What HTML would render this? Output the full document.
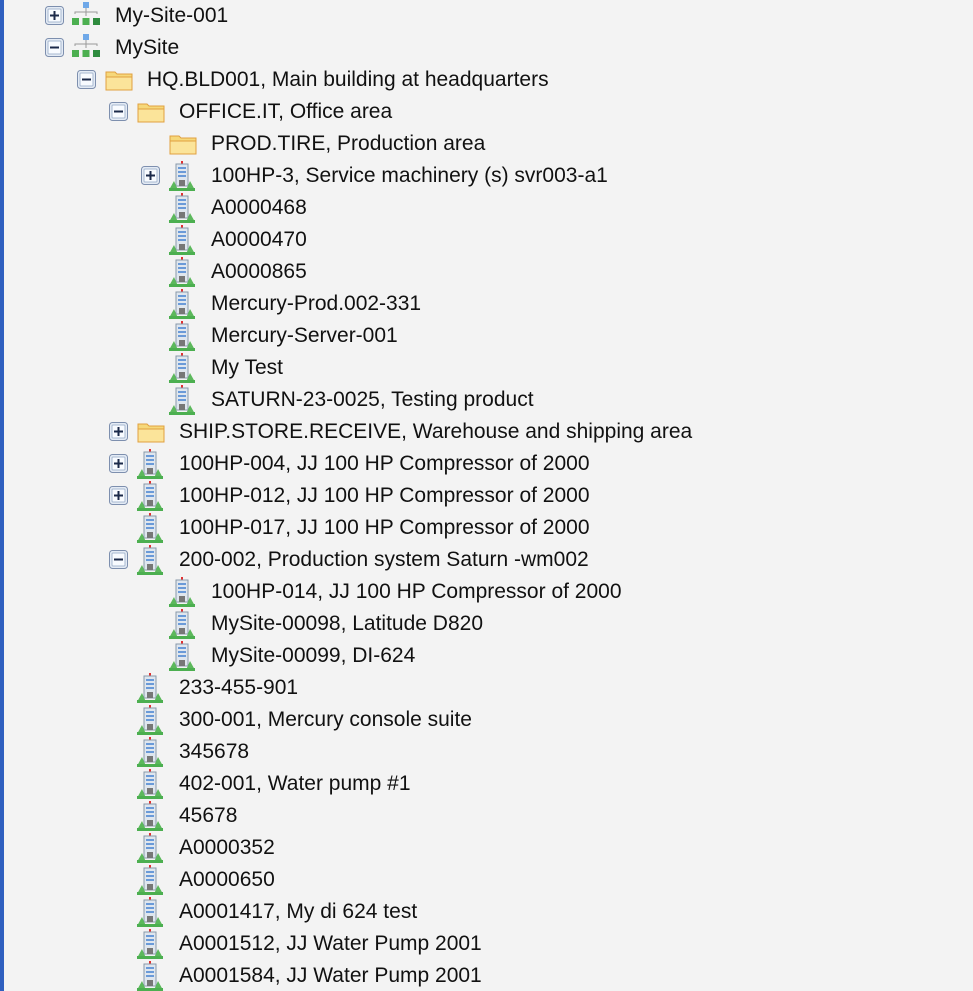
<!DOCTYPE html>
<html><head><meta charset="utf-8"><style>
html,body{margin:0;padding:0;width:973px;height:991px;overflow:hidden}
body{background:#f3f3f3;position:relative;font-family:"Liberation Sans",Arial,sans-serif}
#wrap{position:absolute;left:0;top:0;width:973px;height:991px;overflow:hidden}
.bar{position:absolute;left:0;top:0;width:4px;height:991px;background:#2f5fbf}
.r{position:absolute;height:32px;width:960px}
.t{position:absolute;top:4px;font-size:21px;color:#111;white-space:nowrap;line-height:24px}
.e,.i{position:absolute}
</style></head><body>
<div id="wrap">
<div class="bar"></div>
<svg width="0" height="0" style="position:absolute">
<defs>
<symbol id="plus" viewBox="0 0 19 19"><rect x="0.5" y="0.5" width="18" height="18" rx="3" fill="#e4ebf5" stroke="#7d8fae"/><rect x="3" y="3" width="13" height="13" rx="1" fill="#f8fbff" stroke="#a8b8d0"/><rect x="5" y="8.5" width="9" height="2" fill="#1b2a4a"/><rect x="8.5" y="5" width="2" height="9" fill="#1b2a4a"/></symbol>
<symbol id="minus" viewBox="0 0 19 19"><rect x="0.5" y="0.5" width="18" height="18" rx="3" fill="#e4ebf5" stroke="#7d8fae"/><rect x="3" y="3" width="13" height="13" rx="1" fill="#f8fbff" stroke="#a8b8d0"/><rect x="5" y="8.5" width="9" height="2" fill="#1b2a4a"/></symbol>
<symbol id="site" viewBox="0 0 32 26"><rect x="13" y="0" width="6" height="6" fill="#6fa8e8"/><path d="M16 6v4M5 12v-2h22v2M16 10v4" stroke="#999" fill="none"/><rect x="2" y="16" width="7" height="7" fill="#4caf50"/><rect x="12.5" y="16" width="7" height="7" fill="#4caf50"/><rect x="23" y="16" width="7" height="7" fill="#2e8b3e"/></symbol>
<symbol id="folder" viewBox="0 0 28 22"><path d="M1 3h9l2 2h15v16H1z" fill="#f6d87a" stroke="#e0a040"/><path d="M1 8h26v13H1z" fill="#fbe49a" stroke="#e0a040"/></symbol>
<symbol id="bldg" viewBox="0 0 26 30"><rect x="12" y="0" width="2" height="3" fill="#e03030"/><rect x="7" y="3" width="12" height="22" fill="#dfe6ee" stroke="#8899aa"/><rect x="9" y="6" width="8" height="2" fill="#6a9ad8"/><rect x="9" y="10" width="8" height="2" fill="#6a9ad8"/><rect x="9" y="14" width="8" height="2" fill="#6a9ad8"/><rect x="10" y="19" width="6" height="6" fill="#777"/><path d="M0 29l5-9 4 9zM17 29l4-9 5 9z" fill="#5cb85c"/><rect x="0" y="27" width="26" height="3" fill="#4caf50"/></symbol>
</defs></svg>
<div id="tree"></div>
</div>
<script>
var rows=[
[0,'+','site','My-Site-001'],[0,'-','site','MySite'],[1,'-','folder','HQ.BLD001, Main building at headquarters'],
[2,'-','folder','OFFICE.IT, Office area'],[3,'','folder','PROD.TIRE, Production area'],
[3,'+','bldg','100HP-3, Service machinery (s) svr003-a1'],[3,'','bldg','A0000468'],[3,'','bldg','A0000470'],
[3,'','bldg','A0000865'],[3,'','bldg','Mercury-Prod.002-331'],[3,'','bldg','Mercury-Server-001'],[3,'','bldg','My Test'],
[3,'','bldg','SATURN-23-0025, Testing product'],[2,'+','folder','SHIP.STORE.RECEIVE, Warehouse and shipping area'],
[2,'+','bldg','100HP-004, JJ 100 HP Compressor of 2000'],[2,'+','bldg','100HP-012, JJ 100 HP Compressor of 2000'],
[2,'','bldg','100HP-017, JJ 100 HP Compressor of 2000'],[2,'-','bldg','200-002, Production system Saturn -wm002'],
[3,'','bldg','100HP-014, JJ 100 HP Compressor of 2000'],[3,'','bldg','MySite-00098, Latitude D820'],[3,'','bldg','MySite-00099, DI-624'],
[2,'','bldg','233-455-901'],[2,'','bldg','300-001, Mercury console suite'],[2,'','bldg','345678'],[2,'','bldg','402-001, Water pump #1'],
[2,'','bldg','45678'],[2,'','bldg','A0000352'],[2,'','bldg','A0000650'],[2,'','bldg','A0001417, My di 624 test'],
[2,'','bldg','A0001512, JJ Water Pump 2001'],[2,'','bldg','A0001584, JJ Water Pump 2001'],[2,'','bldg','']];
var h='';
rows.forEach(function(r,i){
 var tx=115+32*r[0],y=i*32;
 h+='<div class="r" style="top:'+y+'px;left:0">';
 if(r[1])h+='<svg class="e" style="left:'+(tx-70)+'px;top:6px" width="19" height="19"><use href="#'+(r[1]=='+'?'plus':'minus')+'"/></svg>';
 if(r[2]=='site')h+='<svg class="i" style="left:'+(tx-45)+'px;top:2px" width="32" height="26"><use href="#site"/></svg>';
 else if(r[2]=='folder')h+='<svg class="i" style="left:'+(tx-42)+'px;top:5px" width="28" height="22"><use href="#folder"/></svg>';
 else h+='<svg class="i" style="left:'+(tx-42)+'px;top:1px" width="26" height="30"><use href="#bldg"/></svg>';
 h+='<div class="t" style="left:'+tx+'px">'+r[3].replace(/&/g,'&amp;')+'</div></div>';
});
document.getElementById('tree').innerHTML=h;
</script>
</body></html>
